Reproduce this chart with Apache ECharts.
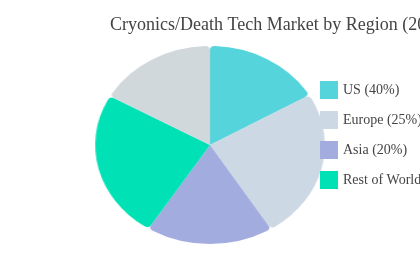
<!DOCTYPE html>
<html>
<head>
<meta charset="utf-8">
<script src="https://cdn.jsdelivr.net/npm/echarts@6/dist/echarts.min.js"></script>
<style>
html,body{margin:0;padding:0;background:#fff;}
#wrap{position:relative;width:420px;height:260px;overflow:hidden;}
#pie,#txt{position:absolute;left:0;top:0;width:420px;height:260px;}
#pie{transform:scaleX(1.16);transform-origin:210px 145px;}
</style>
</head>
<body>
<div id="wrap"><div id="pie"></div><div id="txt"></div></div>
<script>
// Data
const categories = ['US', 'Europe', 'Asia', 'Rest of World', 'Other'];
const legendLabels = ['US (40%)', 'Europe (25%)', 'Asia (20%)', 'Rest of World (15%)'];
const shares = [16.6, 24.5, 17.9, 24.2, 16.8];      // angular share (%)
const colors = ['#56d4dc', '#cdd8e5', '#a3acdf', '#00e1b5', '#d1d8dc'];
const titleText = 'Cryonics/Death Tech Market by Region (2024)';

const font = 'Liberation Serif';

const pieChart = echarts.init(document.getElementById('pie'), null, { renderer: 'canvas' });
pieChart.setOption({
  animation: false,
  series: [{
    type: 'pie',
    center: [210, 145],
    radius: [0, 99],
    startAngle: 90,
    clockwise: true,
    silent: true,
    label: { show: false },
    labelLine: { show: false },
    emphasis: { disabled: true },
    itemStyle: { borderWidth: 0, borderRadius: [0, 4] },
    data: categories.map(function (c, j) {
      return {
        name: j < legendLabels.length ? legendLabels[j] : c,
        value: shares[j],
        itemStyle: { color: colors[j] }
      };
    })
  }]
});

const txtChart = echarts.init(document.getElementById('txt'), null, { renderer: 'canvas' });
txtChart.setOption({
  animation: false,
  textStyle: { fontFamily: font },
  title: {
    text: titleText,
    left: 105,
    top: 11,
    textStyle: { fontFamily: font, fontSize: 18, fontWeight: 'normal', color: '#444' }
  },
  legend: {
    orient: 'vertical',
    left: 315,
    top: 76,
    icon: 'rect',
    itemWidth: 18,
    itemHeight: 18,
    itemGap: 12,
    selectedMode: false,
    textStyle: { fontFamily: font, fontSize: 14, color: '#444' },
    data: legendLabels.map(function (n, i) {
      return { name: n, itemStyle: { color: colors[i] } };
    })
  },
  series: [{
    type: 'pie',
    radius: [0, 0],
    silent: true,
    label: { show: false },
    labelLine: { show: false },
    data: legendLabels.map(function (n, i) {
      return { name: n, value: shares[i], itemStyle: { color: colors[i] } };
    })
  }]
});
</script>
</body>
</html>
